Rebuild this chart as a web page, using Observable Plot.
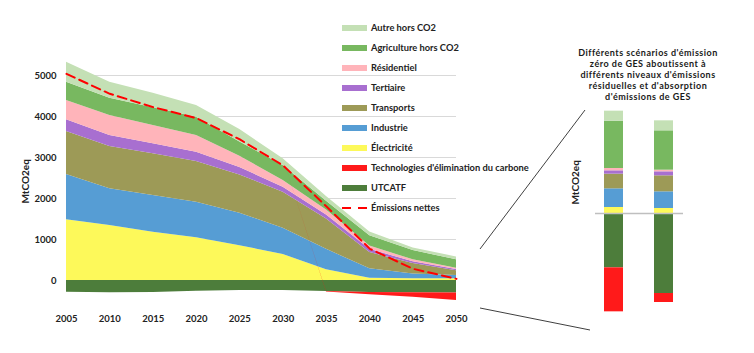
<!DOCTYPE html>
<html>
<head>
<meta charset="utf-8">
<script src="https://cdn.jsdelivr.net/npm/d3@7"></script>
<script src="https://cdn.jsdelivr.net/npm/@observablehq/plot@0.6"></script>
<style>
  body { margin: 0; background: #fff; }
  #wrap { position: relative; width: 754px; height: 353px; overflow: hidden; background: #fff; font-family: Lato, "DejaVu Sans", sans-serif; }
  #wrap > * { position: absolute; }
  .leg-item { position: absolute; left: 342px; height: 14px; font-size: 9.3px; font-weight: 700; color: #222; white-space: nowrap; }
  .leg-sw { position: absolute; left: 0; top: 4px; width: 25px; height: 6px; }
  .leg-tx { position: absolute; left: 29px; top: 0; line-height: 14px; }
  #inset-title { left: 548px; top: 48px; width: 200px; text-align: center; font-size: 9px; line-height: 10.9px; letter-spacing: 0.5px; font-weight: 700; color: #1a1a1a; }
</style>
</head>
<body>
<div id="wrap"></div>
<script>
// ---------- data ----------
const years = [2005, 2010, 2015, 2020, 2025, 2030, 2035, 2040, 2045, 2050];
const yTicks = [0, 1000, 2000, 3000, 4000, 5000];

const seriesNames = ["Électricité", "Industrie", "Transports", "Tertiaire", "Résidentiel",
  "Agriculture hors CO2", "Autre hors CO2", "UTCATF", "Technologies d'élimination du carbone"];
const seriesColors = ["#fdf95a", "#569dd4", "#9d9a57", "#a86fd0", "#ffb4ba",
  "#78b860", "#c4e0b5", "#4d7d3b", "#ff1a1a"];

const electricite = [1480, 1341, 1179, 1041, 850, 634, 260, 55, 45, 45];
const industrie   = [1105, 895, 894, 870, 790, 642, 500, 230, 115, 75];
const transports  = [1049, 1032, 1016, 991, 935, 878, 740, 395, 255, 115];
const tertiaire   = [285, 269, 244, 228, 180, 122, 100, 80, 40, 35];
const residentiel = [471, 487, 447, 407, 275, 163, 120, 80, 49, 30];
const agriculture = [447, 423, 431, 447, 350, 366, 210, 250, 226, 204];
const autre       = [488, 390, 358, 284, 300, 162, 120, 90, 60, 71];
const utcatf      = [-285, -300, -290, -260, -245, -245, -270, -295, -300, -305];
const techElim    = [0, 0, 0, 0, 0, 0, -10, -50, -110, -180];
const emissionsNettes = [5040, 4553, 4228, 3959, 3440, 2805, 1805, 772, 285, 40];

// inset (2050 scenarios), arbitrary units
const scenarios = ["Scénario A", "Scénario B"];
const insetA = [18, 56, 44, 10, 7, 142, 30, -163, -132];
const insetB = [15, 50, 48, 12, 5, 118, 30, -240, -27];

const legendLabels = ["Autre hors CO2", "Agriculture hors CO2", "Résidentiel", "Tertiaire", "Transports",
  "Industrie", "Électricité", "Technologies d'élimination du carbone", "UTCATF", "Émissions nettes"];

// ---------- tables ----------
const seriesValues = [electricite, industrie, transports, tertiaire, residentiel, agriculture, autre, utcatf, techElim];
const areaData = [];
seriesNames.forEach((s, i) => years.forEach((y, j) => areaData.push({year: y, series: s, value: seriesValues[i][j]})));
const netData = years.map((y, j) => ({year: y, value: emissionsNettes[j]}));
const insetData = [];
seriesNames.forEach((s, i) => {
  insetData.push({scenario: scenarios[0], series: s, value: insetA[i]});
  insetData.push({scenario: scenarios[1], series: s, value: insetB[i]});
});
const colorOf = Object.fromEntries(seriesNames.map((s, i) => [s, seriesColors[i]]));

const wrap = document.getElementById("wrap");

// ---------- main chart ----------
const main = Plot.plot({
  width: 754, height: 353,
  marginLeft: 66, marginRight: 298, marginTop: 54.5, marginBottom: 52.5,
  style: {fontFamily: "Lato, sans-serif", fontSize: "9.5px", fontWeight: "700", color: "#222", background: "transparent"},
  x: {domain: [2005, 2050]},
  y: {domain: [-500, 5500]},
  color: {domain: seriesNames, range: seriesColors},
  marks: [
    Plot.gridY(yTicks, {stroke: "#d9d9d9", strokeOpacity: 1}),
    Plot.areaY(areaData, {x: "year", y: "value", fill: "series", z: "series"}),
    Plot.line(netData, {x: "year", y: "value", stroke: "#ff0000", strokeWidth: 2, strokeDasharray: "9,5"}),
    Plot.axisX({ticks: years, tickFormat: d => String(d), tickSize: 0, tickPadding: 14, label: null}),
    Plot.axisY({ticks: yTicks, tickFormat: d => String(d), tickSize: 0, tickPadding: 10, label: null}),
    Plot.text(["MtCO2eq"], {frameAnchor: "left", rotate: -90, dx: -41, dy: 25.5, fontSize: 10, fontWeight: 700, fill: "#222"})
  ]
});
main.style.left = "0px"; main.style.top = "0px";
wrap.appendChild(main);

// ---------- legend ----------
legendLabels.forEach((lab, i) => {
  const item = document.createElement("div");
  item.className = "leg-item";
  item.style.top = (28 + 20 * i - 7) + "px";
  const sw = document.createElement("div");
  sw.className = "leg-sw";
  if (lab === "Émissions nettes") {
    sw.style.top = "6px"; sw.style.height = "2px";
    sw.style.background = "repeating-linear-gradient(to right, #ff0000 0 9px, transparent 9px 16px)";
  } else {
    sw.style.background = colorOf[lab];
  }
  const tx = document.createElement("div");
  tx.className = "leg-tx";
  tx.textContent = lab;
  item.appendChild(sw); item.appendChild(tx);
  wrap.appendChild(item);
});

// ---------- inset ----------
const title = document.createElement("div");
title.id = "inset-title";
title.innerHTML = "Différents scénarios d'émission<br>zéro de GES aboutissent à<br>différents niveaux d'émissions<br>résiduelles et d'absorption<br>d'émissions de GES";
wrap.appendChild(title);

const inset = Plot.plot({
  width: 160, height: 230,
  marginLeft: 13, marginRight: 16, marginTop: 10, marginBottom: 10,
  style: {fontFamily: "Lato, sans-serif", background: "transparent", color: "#222"},
  x: {domain: scenarios, padding: 0.62, axis: null},
  y: {domain: [-321, 309], axis: null},
  color: {domain: seriesNames, range: seriesColors},
  marks: [
    Plot.barY(insetData, {x: "scenario", y: "value", fill: "series"}),
    Plot.ruleY([0], {stroke: "#bfbfbf", strokeWidth: 1.5, insetLeft: 22, insetRight: 21}),
    Plot.text(["MtCO2eq"], {frameAnchor: "left", rotate: -90, dx: 2, dy: -11, fontSize: 10, fontWeight: 700, fill: "#222"})
  ]
});
inset.style.left = "560px"; inset.style.top = "100px";
wrap.appendChild(inset);

// ---------- connector lines ----------
const ov = d3.create("svg").attr("width", 754).attr("height", 353)
  .style("left", "0px").style("top", "0px").style("pointer-events", "none");
ov.append("line").attr("x1", 480).attr("y1", 249).attr("x2", 585).attr("y2", 110)
  .attr("stroke", "#404040").attr("stroke-width", 1);
ov.append("line").attr("x1", 480).attr("y1", 308).attr("x2", 590).attr("y2", 330)
  .attr("stroke", "#404040").attr("stroke-width", 1);
wrap.appendChild(ov.node());
</script>
</body>
</html>
